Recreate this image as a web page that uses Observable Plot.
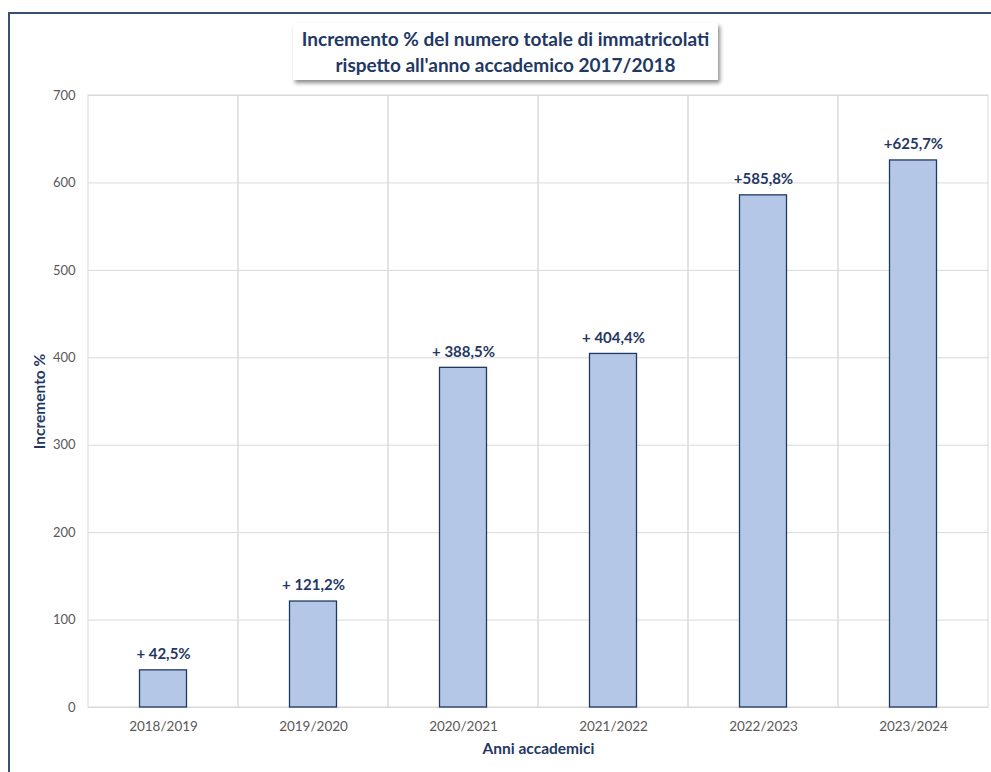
<!DOCTYPE html>
<html>
<head>
<meta charset="utf-8">
<script src="https://cdn.jsdelivr.net/npm/d3@7"></script>
<script src="https://cdn.jsdelivr.net/npm/@observablehq/plot@0.6"></script>
<style>
  html, body { margin: 0; padding: 0; background: #fff; }
  #wrap { position: relative; width: 991px; height: 772px; overflow: hidden; background: #fff; font-family: Lato, "Open Sans", sans-serif; }
  #frame { position: absolute; left: 8px; top: 12px; width: 1100px; height: 900px; border: 2px solid #3B4E73; box-sizing: border-box; }
  #title { position: absolute; left: 293px; top: 23px; width: 425px; height: 57px; background: #fff;
           box-shadow: 2px 3px 4px rgba(0,0,0,0.45); color: #1F3864; font-weight: bold; font-size: 19px;
           line-height: 26px; text-align: center; padding-top: 3px; box-sizing: border-box; white-space: nowrap; }
  #chart { position: absolute; left: 0; top: 0; }
</style>
</head>
<body>
<div id="wrap">
  <div id="frame"></div>
  <div id="chart"></div>
  <div id="title">Incremento % del numero totale di immatricolati<br>rispetto all'anno accademico 2017/2018</div>
</div>
<script>
const anni = ["2018/2019", "2019/2020", "2020/2021", "2021/2022", "2022/2023", "2023/2024"];
const incremento = [42.5, 121.2, 388.5, 404.4, 585.8, 625.7];
const etichette = ["+ 42,5%", "+ 121,2%", "+ 388,5%", "+ 404,4%", "+585,8%", "+625,7%"];
const yTicks = [0, 100, 200, 300, 400, 500, 600, 700];

const data = anni.map((a, i) => ({anno: anni[i], valore: incremento[i], label: etichette[i]}));
const grid = anni.map(a => ({anno: a, y1: 0, y2: 700}));

const plot = Plot.plot({
  width: 991,
  height: 772,
  marginLeft: 88,
  marginRight: 3,
  marginTop: 95,
  marginBottom: 65,
  style: {fontFamily: "Lato, 'Open Sans', sans-serif", background: "transparent"},
  x: {domain: anni, padding: 0},
  y: {domain: [0, 700]},
  marks: [
    Plot.gridY(yTicks, {stroke: "#D9D9D9", strokeOpacity: 1, strokeWidth: 1}),
    Plot.rect(grid, {x: "anno", y1: "y1", y2: "y2", fill: "none", stroke: "#D9D9D9", strokeWidth: 1}),
    Plot.barY(data, {x: "anno", y: "valore", fill: "#B4C7E7", stroke: "#1F3864", strokeWidth: 1.3, insetLeft: 51.5, insetRight: 51.5}),
    Plot.text(data, {x: "anno", y: "valore", text: "label", dy: -16, fill: "#1F3864", fontWeight: "bold", fontSize: 15}),
    Plot.axisY(yTicks, {tickSize: 0, tickPadding: 13, fontSize: 13, color: "#595959", label: null}),
    Plot.axisX({tickSize: 0, tickPadding: 14, fontSize: 13.5, color: "#595959", label: null}),
    Plot.text(["Incremento %"], {frameAnchor: "left", dx: -48, rotate: -90, fill: "#1F3864", fontWeight: "bold", fontSize: 15.5, textAnchor: "middle"}),
    Plot.text(["Anni accademici"], {frameAnchor: "bottom", dy: 46, fill: "#1F3864", fontWeight: "bold", fontSize: 15.5})
  ]
});
document.getElementById("chart").appendChild(plot);
</script>
</body>
</html>
